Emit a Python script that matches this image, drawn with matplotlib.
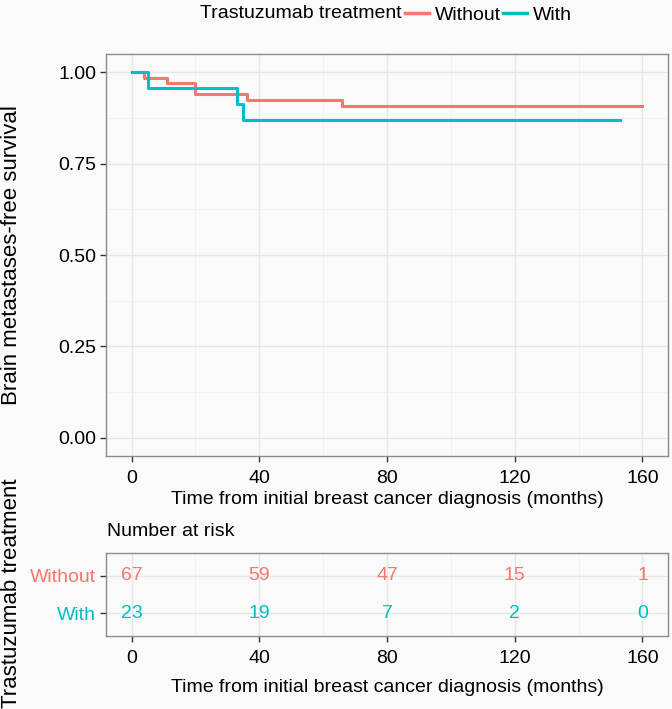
import matplotlib
matplotlib.use('Agg')
import matplotlib.pyplot as plt
from matplotlib.lines import Line2D

plt.rcParams['font.family'] = ['Liberation Sans', 'DejaVu Sans']

# Kaplan-Meier step data (time in months, survival)
without_time = [0, 4, 11, 20, 36, 66, 160]
without_surv = [1.0, 0.985, 0.970, 0.940, 0.925, 0.909, 0.909]
with_time = [0, 5, 33, 35, 153]
with_surv = [1.0, 0.957, 0.913, 0.870, 0.870]

groups = ['Without', 'With']
colors = {'Without': '#F8766D', 'With': '#00BFC4'}
risk_times = [0, 40, 80, 120, 160]
risk_without = [67, 59, 47, 15, 1]
risk_with = [23, 19, 7, 2, 0]

BG = '#FAFAFA'
xlabel = 'Time from initial breast cancer diagnosis (months)'
W, H = 672, 709

fig = plt.figure(figsize=(6.72, 7.09), dpi=100, facecolor=BG)
ax = fig.add_axes([106 / W, 1 - 456 / H, 562 / W, 402 / H])
rx = fig.add_axes([106 / W, 1 - 636 / H, 562 / W, 83 / H])


def style_axes(a):
    a.set_facecolor(BG)
    for s in a.spines.values():
        s.set_color('#8c8c8c')
        s.set_linewidth(1.0)
    a.tick_params(axis='both', colors='#333333', labelcolor='black',
                  labelsize=14, length=4, width=1, direction='out', pad=3)
    a.tick_params(axis='x', pad=6)
    a.set_axisbelow(True)


style_axes(ax)
ax.step(without_time, without_surv, where='post', color=colors['Without'], lw=2.2)
ax.step(with_time, with_surv, where='post', color=colors['With'], lw=2.2)
ax.set_xlim(-8, 168)
ax.set_ylim(-0.05, 1.05)
ax.set_xticks(risk_times)
ax.set_xticks([20, 60, 100, 140], minor=True)
ax.set_yticks([0, 0.25, 0.5, 0.75, 1.0])
ax.set_yticklabels(['0.00', '0.25', '0.50', '0.75', '1.00'])
ax.set_yticks([0.125, 0.375, 0.625, 0.875], minor=True)
ax.tick_params(which='minor', length=0)
ax.grid(which='major', color='#e6e6e6', lw=1.0)
ax.grid(which='minor', color='#f0f0f0', lw=0.6)
ax.set_xlabel(xlabel, fontsize=14, labelpad=3)
fig.text(12 / W, 1 - 255 / H, 'Brain metastases-free survival', rotation=90,
         ha='center', va='center', fontsize=16)

# legend on top, drawn by hand in pixel positions
fig.text(200 / W, 1 - 13 / H, 'Trastuzumab treatment', ha='left',
         va='center', fontsize=14)
for g, x0, tx in [('Without', 405, 435), ('With', 503, 533)]:
    fig.add_artist(Line2D([x0 / W, (x0 + 24) / W], [1 - 13 / H, 1 - 13 / H],
                          color=colors[g], lw=2.5))
    fig.text(tx / W, 1 - 15 / H, g, ha='left', va='center', fontsize=14)

# risk table
style_axes(rx)
for yv, g, counts in [(2, 'Without', risk_without), (1, 'With', risk_with)]:
    for t, n in zip(risk_times, counts):
        rx.text(t, yv, str(n), color=colors[g], ha='center', va='center',
                fontsize=14)
rx.set_xlim(-8, 168)
rx.set_ylim(0.4, 2.6)
rx.set_xticks(risk_times)
rx.set_xticks([20, 60, 100, 140], minor=True)
rx.set_yticks([2, 1])
rx.set_yticklabels(groups)
for lab, g in zip(rx.get_yticklabels(), groups):
    lab.set_color(colors[g])
rx.tick_params(which='minor', length=0)
rx.grid(which='major', color='#e6e6e6', lw=1.0)
rx.grid(which='minor', axis='x', color='#f0f0f0', lw=0.6)
rx.set_xlabel(xlabel, fontsize=14, labelpad=9)
fig.text(107 / W, 1 - 532 / H, 'Number at risk', ha='left', va='center',
         fontsize=14)
fig.text(12 / W, 1 - 593 / H, 'Trastuzumab treatment', rotation=90,
         ha='center', va='center', fontsize=16)

fig.savefig('out.png', dpi=100, facecolor=BG)
